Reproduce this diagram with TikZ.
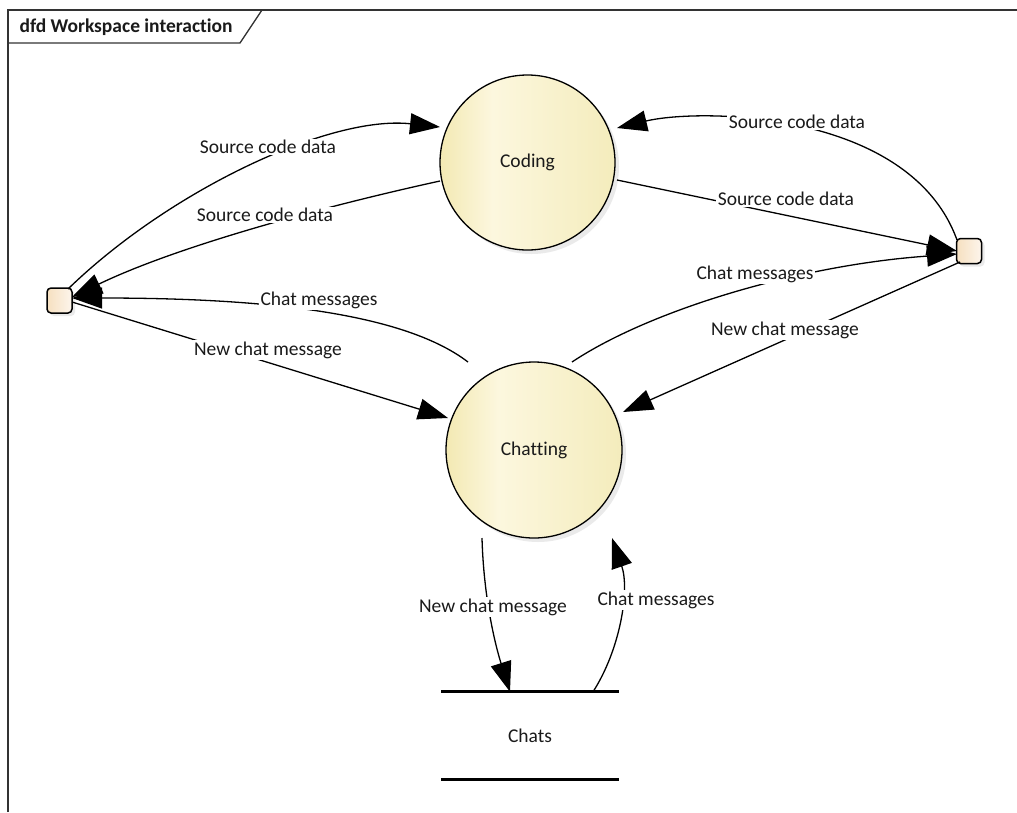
\documentclass[tikz,border=0pt]{standalone}
\usepackage{fontspec}
\setmainfont{Carlito}[Ligatures=NoCommon]
\usetikzlibrary{arrows.meta,shadows,calc}
\definecolor{yL}{HTML}{F3E9B3}
\definecolor{yM}{HTML}{FCF7DE}
\definecolor{yR}{HTML}{F4ECBC}
\definecolor{sL}{HTML}{F6E0C0}
\definecolor{sR}{HTML}{FDF5EC}
\definecolor{ink}{HTML}{1A1A1A}
\definecolor{framec}{HTML}{333333}
\pgfdeclarehorizontalshading{procshade}{100bp}{color(0bp)=(yL); color(25bp)=(yL); color(40bp)=(yM); color(75bp)=(yR); color(100bp)=(yR)}
\pgfdeclarehorizontalshading{termshade}{100bp}{color(0bp)=(sL); color(25bp)=(sL); color(75bp)=(sR); color(100bp)=(sR)}
\begin{document}
\begin{tikzpicture}[x=1pt,y=-1pt,
  every node/.style={font=\fontsize{19.5}{23}\selectfont, text=ink},
  process/.style={circle, draw=black, line width=1.3pt, shade, shading=procshade,
    minimum size=175pt, inner sep=0pt,
    drop shadow={shadow xshift=4pt, shadow yshift=-4pt, fill=black!16}},
  term/.style={rectangle, rounded corners=4pt, draw=black, line width=1.5pt, shade, shading=termshade,
    minimum size=25pt, inner sep=0pt,
    drop shadow={shadow xshift=3pt, shadow yshift=-3pt, fill=black!16}},
  store/.style={minimum width=177pt, minimum height=87pt, inner sep=0pt},
  storeline/.style={draw=black, line width=3pt},
  flow/.style={draw=black, line width=1.3pt, -{Triangle[length=30pt,width=21pt]}},
  lbl/.style={fill=white, inner sep=1.5pt},
  frame/.style={draw=framec, line width=1.3pt},
]
\useasboundingbox (0,0) rectangle (1017,812);
\fill[white] (0,0) rectangle (1017,812);

% frame
\draw[frame] (8,812) -- (8,10) -- (1017,10);
\draw[frame] (8,43) -- (240,43) -- (262,10);
\node[anchor=west, font=\bfseries\fontsize{19.5}{23}\selectfont] (title) at (16,27) {dfd Workspace interaction};

% nodes
\node[process] (coding) at (527.5,162.5) {\raisebox{-3pt}{Coding}};
\node[process, minimum size=176pt] (chatting) at (534,450) {Chatting};
\node[term] (lsq) at (59.5,300.5) {};
\node[term] (rsq) at (969,251) {};
\node[store] (chats) at (530,735.5) {Chats};
\draw[storeline] (chats.north west) -- (chats.north east);
\draw[storeline] (chats.south west) -- (chats.south east);

% connectors
\draw[flow] ([shift={(8.5,-11.5)}]lsq.center) .. controls (170,190) and (330,115) .. ([shift={(-87.5,-35.5)}]coding.center);
\draw[flow] ([shift={(-87.5,18.5)}]coding.center) .. controls (330,205) and (180,245) .. ([shift={(12.5,-3.5)}]lsq.center);
\draw[flow] ([shift={(-66,-88)}]chatting.center) .. controls (400,310) and (250,298) .. ([shift={(12.5,-2.5)}]lsq.center);
\draw[flow] ([shift={(12.5,1.5)}]lsq.center) -- ([shift={(-86,-32)}]chatting.center);
\draw[flow] ([shift={(-12,-11)}]rsq.center) .. controls (910,110) and (700,108) .. ([shift={(89.5,-34.5)}]coding.center);
\draw[flow] ([shift={(89.5,17.5)}]coding.center) -- ([shift={(-12,0)}]rsq.center);
\draw[flow] ([shift={(38,-88)}]chatting.center) .. controls (650,310) and (800,265) .. ([shift={(-12,3)}]rsq.center);
\draw[flow] ([shift={(-9,11)}]rsq.center) -- ([shift={(89,-38)}]chatting.center);
\draw[flow] ([shift={(-52,88)}]chatting.center) .. controls (484,610) and (500,660) .. ([shift={(-20,0)}]chats.north);
\draw[flow] ([shift={(63,0)}]chats.north) .. controls (620,650) and (630,590) .. ([shift={(78,88)}]chatting.center);

% labels
\node[lbl] (l1) at (268,147) {Source code data};
\node[lbl] (l2) at (265,215) {Source code data};
\node[lbl] (l3) at (319,300) {Chat messages};
\node[lbl] (l4) at (268,350) {New chat message};
\node[lbl] (l5) at (797,122) {Source code data};
\node[lbl] (l6) at (786,199) {Source code data};
\node[lbl] (l7) at (755,274) {Chat messages};
\node[lbl] (l8) at (785,330) {New chat message};
\node[lbl] (l9) at (493,607) {New chat message};
\node[lbl] (l10) at (656,600) {Chat messages};
\end{tikzpicture}
\end{document}
